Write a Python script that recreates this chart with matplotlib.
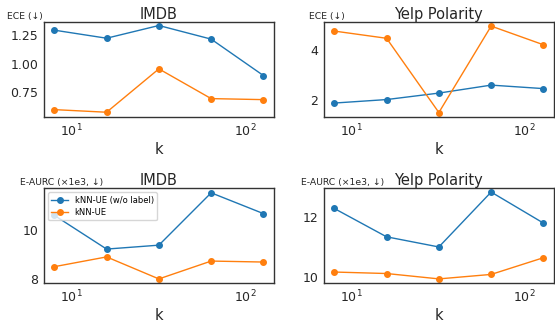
import numpy as np
import matplotlib
matplotlib.use("Agg")
import matplotlib.pyplot as plt

# neighbourhood sizes
k = [8, 16, 32, 64, 128]

# ECE (lower is better)
ece_imdb_nolabel = [1.297, 1.226, 1.338, 1.218, 0.897]
ece_imdb_knn = [0.597, 0.574, 0.956, 0.694, 0.685]
ece_yelp_nolabel = [1.87, 2.01, 2.27, 2.59, 2.45]
ece_yelp_knn = [4.76, 4.47, 1.49, 4.96, 4.21]

# E-AURC (x1e3, lower is better)
aurc_imdb_nolabel = [10.61, 9.23, 9.39, 11.53, 10.68]
aurc_imdb_knn = [8.51, 8.91, 8.01, 8.74, 8.70]
aurc_yelp_nolabel = [12.30, 11.35, 11.01, 12.85, 11.81]
aurc_yelp_knn = [10.17, 10.12, 9.94, 10.09, 10.65]

titles = ["IMDB", "Yelp Polarity", "IMDB", "Yelp Polarity"]
ylabels = ["ECE (↓)", "ECE (↓)", "E-AURC (×1e3, ↓)", "E-AURC (×1e3, ↓)"]
yticks = [[0.75, 1.00, 1.25], [2, 4], [8, 10], [10, 12]]
ytick_labels = [["0.75", "1.00", "1.25"], ["2", "4"], ["8", "10"], ["10", "12"]]
series = [(ece_imdb_nolabel, ece_imdb_knn), (ece_yelp_nolabel, ece_yelp_knn),
          (aurc_imdb_nolabel, aurc_imdb_knn), (aurc_yelp_nolabel, aurc_yelp_knn)]
names = ["kNN-UE (w/o label)", "kNN-UE"]

fig, axes = plt.subplots(2, 2, figsize=(5.55, 3.25), dpi=100)
fig.subplots_adjust(left=0.079, right=0.998, top=0.932, bottom=0.129, hspace=0.75, wspace=0.217)
lab_x = [-0.16, -0.066, -0.105, -0.10]

for i, ax in enumerate(axes.flat):
    a, b = series[i]
    ax.plot(k, a, marker="o", ms=4, lw=1, color="#1f77b4", label=names[0])
    ax.plot(k, b, marker="o", ms=4, lw=1, color="#ff7f0e", label=names[1])
    ax.set_xscale("log")
    ax.set_yticks(yticks[i])
    ax.set_yticklabels(ytick_labels[i])
    ax.minorticks_off()
    ax.tick_params(length=0, labelsize=9, colors="#262626", pad=4)
    for s in ax.spines.values():
        s.set_color("#333333"); s.set_linewidth(1.0)
    ax.set_title(titles[i], fontsize=10.5, color="#262626", pad=2)
    ax.set_xlabel("k", fontsize=10.5, color="#262626", labelpad=2)
    ax.text(lab_x[i], 1.015, ylabels[i], transform=ax.transAxes, fontsize=6.7,
            color="#262626", ha="left", va="bottom")

axes[0, 0].set_ylim(0.532, 1.368)
axes[0, 1].set_ylim(1.31, 5.12)
axes[1, 0].set_ylim(7.84, 11.72)
axes[1, 1].set_ylim(9.80, 12.98)

axes[1, 0].legend(loc="upper left", fontsize=6, frameon=True, borderpad=0.4,
                  handlelength=2, labelspacing=0.4, bbox_to_anchor=(0.0, 1.0))

fig.savefig("out.png", dpi=100)
